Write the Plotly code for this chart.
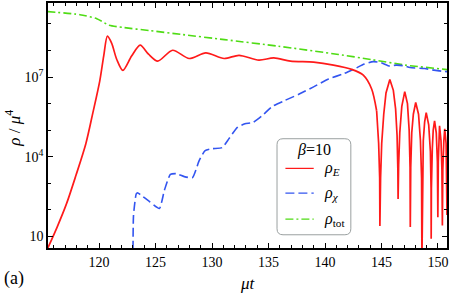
import plotly.graph_objects as go

# ---- data ----
rho_E_t = [115.4, 116.28, 117.13, 117.95, 118.83, 119.45, 120.06, 120.41, 120.74, 121.12,
           121.56, 122.11, 122.88, 123.64, 124.38, 125.19, 126.51, 127.98, 129.45, 131.07,
           132.39, 134.15, 135.47, 136.94, 138.99, 140.75, 142.36, 143.39, 144.13, 144.57,
           # oscillating tail
           144.75, 144.84, 144.86, 144.92, 145.02, 145.2, 145.4, 145.74, 146.05, 146.25,
           146.38, 146.45, 146.47, 146.52, 146.62, 146.8, 147.06, 147.3, 147.45, 147.53,
           147.55, 147.59, 147.68, 147.82, 148.03, 148.28, 148.45, 148.55, 148.58, 148.62,
           148.7, 148.82, 148.96, 149.18, 149.33, 149.39, 149.40, 149.42, 149.5, 149.58,
           149.70, 149.85, 149.95, 149.99, 150.03, 150.09, 150.14, 150.27, 150.35, 150.39,
           150.43, 150.52, 150.6, 150.72, 150.78, 150.8, 150.9]
rho_E = [10**0.50, 10**1.34, 10**2.24, 10**3.29, 10**4.49, 10**5.65, 10**6.85, 10**7.79, 10**8.54, 10**8.27,
         10**7.67, 10**7.25, 10**7.79, 10**8.20, 10**7.86, 10**7.60, 10**8.01, 10**7.70, 10**7.91, 10**7.70,
         10**7.82, 10**7.64, 10**7.72, 10**7.60, 10**7.56, 10**7.45, 10**7.29, 10**7.07, 10**6.55, 10**5.73,
         10**4.5, 10**3.2, 10**1.39, 10**3.2, 10**4.5, 10**5.6, 10**6.4, 10**6.91, 10**6.5, 10**5.8,
         10**4.8, 10**3.5, 10**2.41, 10**3.7, 10**4.9, 10**5.9, 10**6.45, 10**6.0, 10**5.0, 10**3.6,
         10**1.35, 10**3.6, 10**4.9, 10**5.6, 10**6.04, 10**5.6, 10**4.6, 10**3.2, 10**0.0, 10**3.2,
         10**4.6, 10**5.3, 10**5.66, 10**5.2, 10**4.2, 10**2.8, 10**0.91, 10**2.8, 10**4.3, 10**5.0,
         10**5.35, 10**4.9, 10**3.8, 10**1.72, 10**3.8, 10**4.7, 10**5.16, 10**4.6, 10**3.5, 10**1.41,
         10**3.5, 10**4.6, 10**5.05, 10**4.5, 10**3.3, 10**1.8, 10**4.7]
rho_E_smooth_end = 30  # points before this index are the smooth part

rho_chi_t = [123.0, 123.05, 123.29, 123.41, 123.65, 124.46, 125.34, 125.78, 126.31, 126.84,
             127.54, 128.27, 128.86, 129.39, 130.0, 130.89, 131.5, 132.24, 132.91, 133.62,
             134.42, 135.32, 136.35, 137.67, 138.99, 140.31, 141.63, 142.66, 143.48, 144.27,
             144.97, 145.74, 146.29, 146.91, 147.53, 148.82, 149.64, 150.58, 151.0]
rho_chi = [10**0.0, 10**1.79, 10**2.60, 10**2.64, 10**2.57, 10**2.31, 10**2.05, 10**2.73, 10**3.33, 10**3.36,
           10**3.25, 10**3.21, 10**3.85, 10**4.23, 10**4.30, 10**4.34, 10**4.68, 10**5.10, 10**5.24, 10**5.29,
           10**5.54, 10**5.89, 10**6.10, 10**6.35, 10**6.63, 10**6.93, 10**7.12, 10**7.32, 10**7.49, 10**7.58,
           10**7.54, 10**7.41, 10**7.45, 10**7.43, 10**7.36, 10**7.32, 10**7.26, 10**7.21, 10**7.20]

rho_tot_t = [115.4, 118.3, 119.8, 120.9, 122.1, 124.5, 127.4, 131.1, 135.9, 141.2, 144.1, 147.1, 150.6, 151.0]
rho_tot = [2.95e9, 2.24e9, 1.58e9, 8.91e8, 7.41e8, 5.62e8, 3.98e8, 2.57e8, 1.45e8, 7.08e7,
           4.57e7, 2.82e7, 1.95e7, 1.86e7]

x_ticks = [120, 125, 130, 135, 140, 145, 150]
x_minor = list(range(116, 151))
y_ticks = [10, 1e4, 1e7]
y_ticktext = ["10", "10<sup>4</sup>", "10<sup>7</sup>"]
y_minor = [10**k for k in range(0, 11)]

RED = "#ff1a1a"
BLUE = "#3355f0"
GREEN = "#4fdc14"
FONT = "Liberation Serif, Times New Roman, serif"

fig = go.Figure()
fig.add_trace(go.Scatter(x=rho_tot_t, y=rho_tot, mode="lines",
                         line=dict(color=GREEN, width=1.6, dash="8px,3px,2px,3px", shape="spline", smoothing=0.6),
                         showlegend=False))
fig.add_trace(go.Scatter(x=rho_chi_t, y=rho_chi, mode="lines",
                         line=dict(color=BLUE, width=1.6, dash="9px,4px", shape="spline", smoothing=0.5),
                         showlegend=False))
fig.add_trace(go.Scatter(x=rho_E_t[:rho_E_smooth_end], y=rho_E[:rho_E_smooth_end], mode="lines",
                         line=dict(color=RED, width=1.7, shape="spline", smoothing=0.8),
                         showlegend=False))
fig.add_trace(go.Scatter(x=rho_E_t[rho_E_smooth_end - 1:], y=rho_E[rho_E_smooth_end - 1:], mode="lines",
                         line=dict(color=RED, width=1.7),
                         showlegend=False))

axis_common = dict(showline=True, linecolor="black", linewidth=1.5, mirror="ticks",
                   ticks="inside", ticklen=5, tickwidth=1, tickcolor="black",
                   showgrid=False, zeroline=False,
                   tickfont=dict(family=FONT, size=14, color="black"))

fig.update_xaxes(range=[115.48, 150.8], tickmode="array", tickvals=x_ticks,
                 minor=dict(tickmode="array", tickvals=x_minor, ticks="inside", ticklen=3,
                            tickcolor="black", tickwidth=1, showgrid=False),
                 **axis_common)
fig.update_yaxes(type="log", range=[0.56, 9.79], tickmode="array", tickvals=y_ticks,
                 ticktext=y_ticktext,
                 minor=dict(tickmode="array", tickvals=y_minor, ticks="inside", ticklen=3,
                            tickcolor="black", tickwidth=1, showgrid=False),
                 **axis_common)

# legend box (rounded rectangle, paper coords)
x0, x1, y0, y1 = 0.574, 0.759, 0.054, 0.446
rx, ry = 0.015, 0.0244
path = (f"M {x0+rx},{y0} L {x1-rx},{y0} Q {x1},{y0} {x1},{y0+ry} "
        f"L {x1},{y1-ry} Q {x1},{y1} {x1-rx},{y1} L {x0+rx},{y1} Q {x0},{y1} {x0},{y1-ry} "
        f"L {x0},{y0+ry} Q {x0},{y0} {x0+rx},{y0} Z")
shapes = [dict(type="path", path=path, xref="paper", yref="paper",
               line=dict(color="#9aa0a0", width=1), fillcolor="white", layer="above")]
lx0, lx1 = 0.595, 0.666
for yy, col, dash in [(0.325, RED, "solid"), (0.2236, BLUE, "9px,4px"), (0.118, GREEN, "8px,3px,2px,3px")]:
    shapes.append(dict(type="line", xref="paper", yref="paper", x0=lx0, x1=lx1, y0=yy, y1=yy,
                       line=dict(color=col, width=1.2, dash=dash), layer="above"))

annotations = [
    dict(text="<i>β</i>=10", x=0.666, y=0.398, xref="paper", yref="paper", showarrow=False,
         font=dict(family=FONT, size=16, color="black"), xanchor="center", yanchor="middle"),
    dict(text="<i>ρ</i><sub><i>E</i></sub>", x=0.686, y=0.325, xref="paper", yref="paper", showarrow=False,
         font=dict(family=FONT, size=16, color="black"), xanchor="left", yanchor="middle"),
    dict(text="<i>ρ</i><sub><i>χ</i></sub>", x=0.686, y=0.2236, xref="paper", yref="paper", showarrow=False,
         font=dict(family=FONT, size=16, color="black"), xanchor="left", yanchor="middle"),
    dict(text="<i>ρ</i><sub>tot</sub>", x=0.686, y=0.118, xref="paper", yref="paper", showarrow=False,
         font=dict(family=FONT, size=16, color="black"), xanchor="left", yanchor="middle"),
    dict(text="<i>μt</i>", x=0.501, y=-0.143, xref="paper", yref="paper", showarrow=False,
         font=dict(family=FONT, size=17, color="black"), xanchor="center", yanchor="middle"),
    dict(text="<i>ρ</i> / <i>μ</i><sup>4</sup>", x=-0.087, y=0.488, xref="paper", yref="paper",
         showarrow=False, textangle=-90,
         font=dict(family=FONT, size=17, color="black"), xanchor="center", yanchor="middle"),
    dict(text="(a)", x=-0.085, y=-0.126, xref="paper", yref="paper", showarrow=False,
         font=dict(family=FONT, size=18, color="black"), xanchor="center", yanchor="middle"),
]

fig.update_layout(width=450, height=293, margin=dict(l=48, r=1, t=2, b=45),
                  paper_bgcolor="white", plot_bgcolor="white",
                  font=dict(family=FONT, color="black"),
                  shapes=shapes, annotations=annotations, showlegend=False)

fig.write_html("out.html", config={"displayModeBar": False},
               post_script="document.body.style.margin='0';document.body.style.overflow='hidden';")
